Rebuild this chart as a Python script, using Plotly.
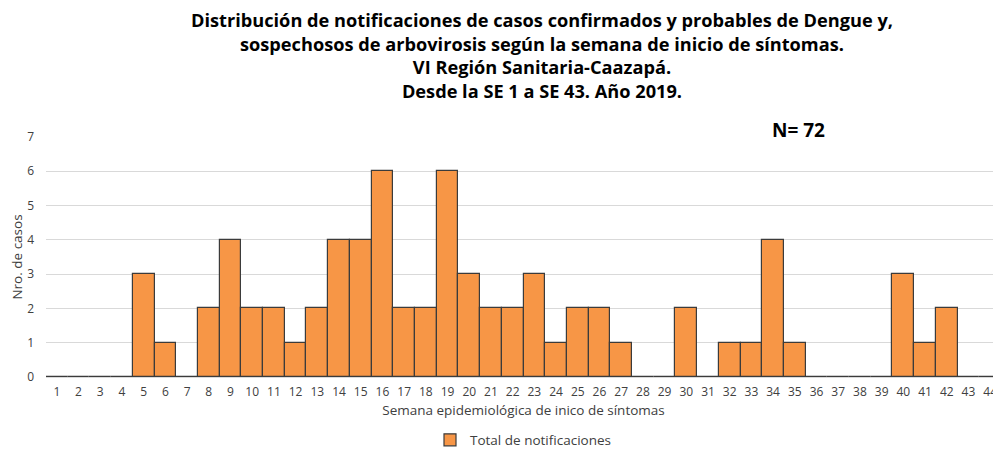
import plotly.graph_objects as go

weeks = [str(i) for i in range(1, 45)]
casos = [0, 0, 0, 0, 3, 1, 0, 2, 4, 2, 2, 1, 2, 4, 4, 6, 2, 2, 6, 3, 2, 2, 3, 1, 2, 2, 1, 0, 0, 2,
         0, 1, 1, 4, 1, 0, 0, 0, 0, 3, 1, 2, 0, 0]
y_ticks = [0, 1, 2, 3, 4, 5, 6, 7]

title_text = ("Distribución de notificaciones de casos confirmados y probables de Dengue y,<br>"
              "sospechosos de arbovirosis según la semana de inicio de síntomas.<br>"
              "VI Región Sanitaria-Caazapá.<br>"
              "Desde la SE 1 a SE 43. Año 2019.")

# the page body has an 8px margin: figure is drawn at (8, 8)
OFF = 8
W, H = 1001 - OFF, 450 - OFF
ml, mr, mt, mb = 46 - OFF, 0, 137 - OFF, H - (377 - OFF)
ph = H - mt - mb
pw = W - ml - mr

def py(y):
    return (H - mb - (y - OFF)) / ph

def px(x):
    return ((x - OFF) - ml) / pw

fig = go.Figure()
fig.add_trace(go.Bar(
    x=weeks, y=casos, name="Total de notificaciones",
    marker=dict(color="#F79646", line=dict(color="#3b3b3b", width=1.2)),
    showlegend=True,
))

fig.update_layout(
    width=W, height=H,
    margin=dict(l=ml, r=mr, t=mt, b=mb, autoexpand=False),
    plot_bgcolor="white", paper_bgcolor="white",
    bargap=0,
    font=dict(family="Open Sans", color="#595959"),
    xaxis=dict(type="category", tickfont=dict(size=12, color="#404040"), showgrid=False,
               showline=False, ticks="", ticklen=0, automargin=False, ticklabelstandoff=6,
               ticklabeloverflow="allow",
               title=dict(text="Semana epidemiológica de inico de síntomas",
                          font=dict(size=13.5, color="#404040"), standoff=6)),
    yaxis=dict(range=[0, 7], tickvals=y_ticks, tickfont=dict(size=12, color="#404040"),
               gridcolor="#D9D9D9", gridwidth=1, zeroline=True, zerolinecolor="#D9D9D9",
               ticks="", ticklabelstandoff=11, automargin=False,
               title=dict(text="Nro. de casos", font=dict(size=13.5, color="#404040"), standoff=1)),
    legend=dict(orientation="h", xref="container", yref="container",
                x=(531 - OFF - 8) / W, xanchor="center", y=1 - (440 - OFF) / H, yanchor="middle",
                font=dict(size=13.5, color="#404040")),
    annotations=[
        dict(text=title_text, xref="paper", yref="paper", x=px(542), y=py(55),
             xanchor="center", yanchor="middle", showarrow=False, align="center", borderpad=0,
             font=dict(family="Open Sans", size=18.2, color="black", weight="bold")),
        dict(text="N= 72", xref="paper", yref="paper", x=px(798), y=py(130),
             xanchor="center", yanchor="middle", showarrow=False,
             font=dict(family="Open Sans", size=19, color="black", weight="bold")),
    ],
)

fig.write_html("out.html")
